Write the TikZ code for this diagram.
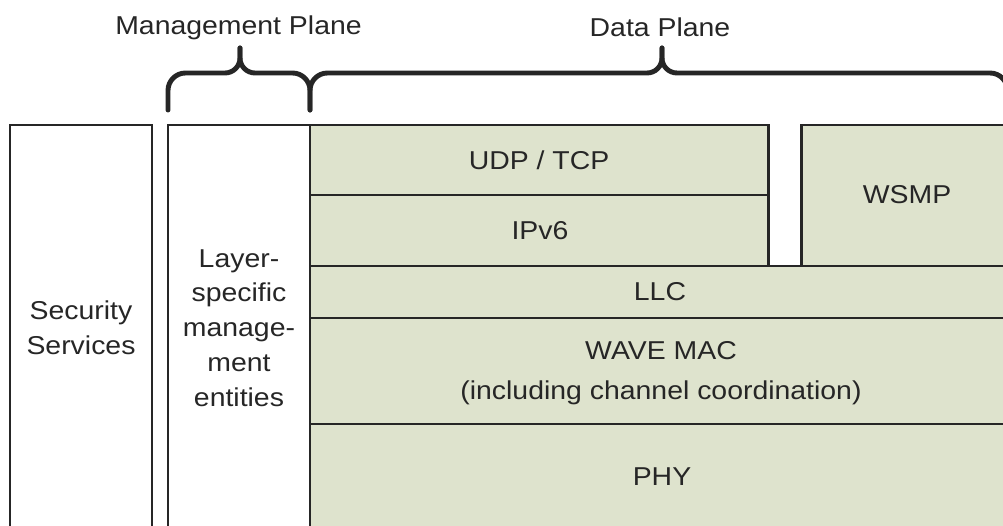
\documentclass[tikz,border=0pt]{standalone}
\usepackage{fontspec}
\setmainfont[FakeStretch=1.1]{Liberation Sans}
\definecolor{layergreen}{RGB}{222,227,205}
\definecolor{inkgray}{RGB}{38,38,38}
\tikzset{
  wall/.style={line width=1.7pt,draw=inkgray},
  brace/.style={line width=2.8pt,draw=inkgray,line cap=round},
  lbl/.style={text=inkgray,align=center,font=\fontsize{14.7}{19.8}\selectfont}
}
\begin{document}
\begin{tikzpicture}
\clip (0,0) rectangle (20.06,10.5);
%\draw[step=0.5cm,gray,very thin] (0,0) grid (20,10.5); %background grid
\fill[layergreen] (6.2,-1) -- (6.2,8) -- (15.36,8) -- (15.36,5.18) -- (16.02,5.18) -- (16.02,8) -- (20.4,8) -- (20.4,-1) -- cycle;

\draw[wall] (0.2,-0.2) -- (0.2,8) -- (3.04,8) -- (3.04,-0.2); %security
\draw[wall] (3.36,-0.2) -- (3.36,8) -- (6.2,8); %layer mgmt
\draw[wall] (6.2,-0.2) -- (6.2,8) -- (15.36,8) -- (15.36,5.18); %udp/ipv6 stack
\draw[wall] (16.02,5.18) -- (16.02,8) -- (20.4,8); %wsmp
\draw[wall] (6.2,6.6) -- (15.36,6.6);
\draw[wall] (6.2,5.18) -- (20.4,5.18); %llc top
\draw[wall] (6.2,4.14) -- (20.4,4.14); %mac top
\draw[wall] (6.2,2.02) -- (20.4,2.02); %phy top

% management brace
\draw[brace] (3.36,8.3) -- (3.36,8.69) arc[start angle=180,end angle=90,radius=0.35] -- (4.5,9.04) arc[start angle=270,end angle=360,radius=0.3] -- (4.8,9.54);
\draw[brace] (4.8,9.54) -- (4.8,9.34) arc[start angle=180,end angle=270,radius=0.3] -- (5.85,9.04) arc[start angle=90,end angle=0,radius=0.35] -- (6.2,8.3);
% data brace
\draw[brace] (6.2,8.3) -- (6.2,8.69) arc[start angle=180,end angle=90,radius=0.35] -- (12.94,9.04) arc[start angle=270,end angle=360,radius=0.3] -- (13.24,9.54);
\draw[brace] (13.24,9.54) -- (13.24,9.34) arc[start angle=180,end angle=270,radius=0.3] -- (19.8,9.04) arc[start angle=90,end angle=0,radius=0.35] -- (20.15,8.3);

\node[lbl] (mgmtplane) at (4.77,9.95) {Management Plane};
\node[lbl] (dataplane) at (13.2,9.95) {Data Plane};
\node[lbl] (security) at (1.62,3.94) {Security\\Services};
\node[lbl] (layermgmt) at (4.78,3.94) {Layer-\\specific\\manage-\\ment\\entities};
\node[lbl] (udptcp) at (10.78,7.3) {UDP / TCP};
\node[lbl] (ipv6) at (10.8,5.89) {IPv6};
\node[lbl] (wsmp) at (18.14,6.6) {WSMP};
\node[lbl] (llc) at (13.2,4.66) {LLC};
\node[lbl,font=\fontsize{14.7}{22.7}\selectfont] (wavemac) at (13.22,3.04) {WAVE MAC\\(including channel coordination)};
\node[lbl] (phy) at (13.24,0.97) {PHY};
\end{tikzpicture}
\end{document}
